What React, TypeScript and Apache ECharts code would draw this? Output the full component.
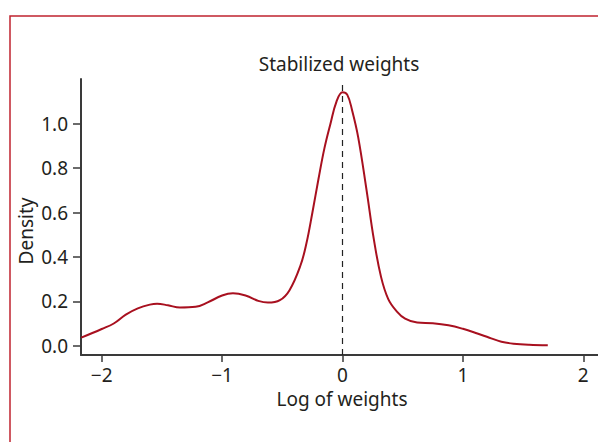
import React, { useEffect, useRef } from "react";
import * as echarts from "echarts";

const titleText = "Stabilized weights";
const xName = "Log of weights";
const yName = "Density";
const xTicks = [-2, -1, 0, 1, 2];
const yTicks = [0, 0.2, 0.4, 0.6, 0.8, 1.0];
const xVals = [
  -2.17, -2.0, -1.9, -1.8, -1.7, -1.6, -1.54, -1.45, -1.35, -1.22, -1.12, -1.0, -0.91, -0.8, -0.7,
  -0.62, -0.52, -0.44, -0.35, -0.3, -0.25, -0.2, -0.15, -0.1, -0.05, 0.0, 0.04, 0.08, 0.13, 0.2,
  0.26, 0.32, 0.38, 0.45, 0.52, 0.62, 0.75, 0.88, 1.0, 1.12, 1.22, 1.32, 1.42, 1.55, 1.705,
];
const density = [
  0.036, 0.075, 0.1, 0.14, 0.168, 0.185, 0.189, 0.182, 0.172, 0.175, 0.195, 0.226, 0.236, 0.225,
  0.202, 0.194, 0.205, 0.25, 0.36, 0.46, 0.6, 0.75, 0.89, 1.0, 1.1, 1.142, 1.13, 1.06, 0.94, 0.7,
  0.48, 0.31, 0.21, 0.155, 0.122, 0.104, 0.101, 0.092, 0.076, 0.055, 0.036, 0.018, 0.009, 0.004,
  0.002,
];
const refLine = [0];

const FONT = "'Noto Sans', sans-serif";
const TXT = "#231f20";
const AXIS = "#3a3a3a";
const RED = "#a8101f";

export default function App() {
  const ref = useRef<HTMLDivElement>(null);
  useEffect(() => {
    if (!ref.current) return;
    const chart = echarts.init(ref.current, null, { renderer: "svg" });
    const fmt = (v: number) => (v < 0 ? "\u2212" + Math.abs(v) : String(v));
    chart.setOption({
      animation: false,
      backgroundColor: "#ffffff",
      title: {
        text: titleText,
        left: 334,
        top: 49,
        textAlign: "center",
        textStyle: { fontFamily: FONT, fontSize: 19, fontWeight: "normal", color: TXT },
      },
      grid: { left: 81, right: 0, top: 79, bottom: 87, containLabel: false },
      xAxis: {
        type: "value",
        min: -2.172,
        max: 2.122,
        name: xName,
        nameLocation: "middle",
        nameGap: 34,
        nameTextStyle: { fontFamily: FONT, fontSize: 19, color: TXT, padding: [0, 0, 0, 5] },
        axisLine: { show: true, onZero: false, lineStyle: { color: AXIS, width: 2 } },
        axisTick: { show: true, length: 7, customValues: xTicks, lineStyle: { color: AXIS, width: 1.5 } },
        axisLabel: {
          customValues: xTicks,
          formatter: fmt,
          margin: 10,
          fontFamily: FONT,
          fontSize: 19,
          color: TXT,
        },
        splitLine: { show: false },
      },
      yAxis: {
        type: "value",
        min: -0.042,
        max: 1.2016,
        axisLine: { show: true, onZero: false, lineStyle: { color: AXIS, width: 2 } },
        axisTick: { show: true, length: 8, customValues: yTicks, lineStyle: { color: AXIS, width: 1.5 } },
        axisLabel: {
          customValues: yTicks,
          formatter: (v: number) => v.toFixed(1),
          margin: 13,
          fontFamily: FONT,
          fontSize: 19,
          color: TXT,
        },
        splitLine: { show: false },
      },
      graphic: [
        {
          type: "rect",
          shape: { x: 10, y: 16, width: 800, height: 800 },
          style: { fill: "none", stroke: "#c0232f", lineWidth: 1.5 },
          silent: true,
        },
        {
          type: "text",
          x: 26,
          y: 231,
          rotation: Math.PI / 2,
          style: {
            text: yName,
            fontFamily: FONT,
            fontSize: 19,
            fill: TXT,
            align: "center",
            verticalAlign: "middle",
          },
        },
      ],
      series: [
        {
          type: "line",
          data: xVals.map((x, i) => [x, density[i]]),
          smooth: 0.4,
          showSymbol: false,
          lineStyle: { color: RED, width: 2 },
          markLine: {
            silent: true,
            symbol: "none",
            label: { show: false },
            lineStyle: { color: "#222", type: [6, 5], width: 1.2 },
            data: refLine.map((v) => [
              { coord: [v, 0 - 0.042] },
              { coord: [v, 1.19] },
            ]),
          },
        },
      ],
    });
    return () => chart.dispose();
  }, []);
  return (
    <div
      ref={ref}
      style={{ position: "fixed", left: 0, top: 0, width: 598, height: 442 }}
    />
  );
}
